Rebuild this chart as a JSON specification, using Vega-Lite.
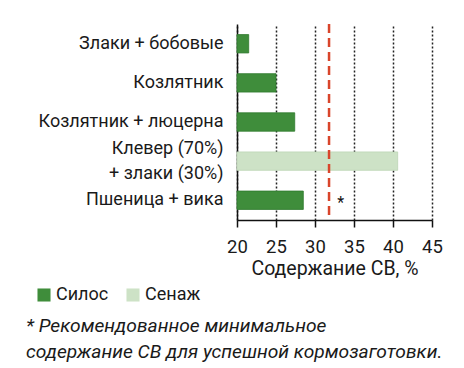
{
  "$schema": "https://vega.github.io/schema/vega-lite/v6.json",
  "width": 195,
  "height": 196,
  "autosize": "none",
  "padding": {"left": 237, "top": 24, "right": 32, "bottom": 148},
  "background": "white",
  "config": {"font": "Roboto", "view": {"stroke": null}},
  "title": {
    "text": ["* Рекомендованное минимальное", "содержание СВ для успешной кормозаготовки."],
    "orient": "bottom",
    "anchor": "start",
    "frame": "group",
    "fontStyle": "italic",
    "fontWeight": "normal",
    "fontSize": 19.2,
    "lineHeight": 26,
    "dx": -211,
    "offset": 13,
    "color": "#1a1a1a"
  },
  "data": {
    "values": [
      {"crop": "Злаки + бобовые", "type": "Силос", "dm": 21.5},
      {"crop": "Козлятник", "type": "Силос", "dm": 25},
      {"crop": "Козлятник + люцерна", "type": "Силос", "dm": 27.4},
      {"crop": "Клевер (70%)|+ злаки (30%)", "type": "Сенаж", "dm": 40.6},
      {"crop": "Пшеница + вика", "type": "Силос", "dm": 28.5}
    ]
  },
  "encoding": {
    "x": {
      "field": "dm",
      "type": "quantitative",
      "scale": {"domain": [20, 45], "nice": false, "zero": false},
      "axis": {
        "values": [20, 25, 30, 35, 40, 45],
        "grid": true,
        "gridDash": [2, 2],
        "gridColor": "#222",
        "gridWidth": 1.5,
        "gridOpacity": 1,
        "tickColor": "#111",
        "tickSize": 7,
        "tickWidth": 1.5,
        "domainColor": "#111",
        "domainWidth": 1.5,
        "labelFontSize": 18.5,
        "labelColor": "#1a1a1a",
        "labelPadding": 10,
        "labelOverlap": false,
        "labelFlush": false,
        "title": "Содержание СВ, %",
        "titleFontSize": 19.5,
        "titleFontWeight": "normal",
        "titleColor": "#1a1a1a",
        "titlePadding": 4
      }
    }
  },
  "layer": [
    {
      "mark": {"type": "bar", "strokeWidth": 0.8},
      "encoding": {
        "y": {
          "field": "crop",
          "type": "nominal",
          "sort": null,
          "scale": {"paddingInner": 0.53, "paddingOuter": 0.27},
          "axis": {
            "title": null,
            "ticks": false,
            "domainColor": "#111",
            "domainWidth": 1.5,
            "labelFontSize": 18,
            "labelColor": "#1a1a1a",
            "labelPadding": 14,
            "labelLimit": 240,
            "labelLineHeight": 25,
            "labelExpr": "split(datum.label, '|')",
            "labelOffset": {"condition": {"test": "indexof(datum.value, '|') >= 0", "value": -12.5}, "value": 0}
          }
        },
        "x2": {"datum": 20},
        "color": {
          "field": "type",
          "type": "nominal",
          "scale": {"domain": ["Силос", "Сенаж"], "range": ["#3f8d3b", "#cde2c6"]},
          "legend": {
            "orient": "none",
            "legendX": -202,
            "legendY": 262,
            "direction": "horizontal",
            "title": null,
            "symbolType": "square",
            "symbolSize": 170,
            "symbolStrokeWidth": 0,
            "labelFontSize": 18,
            "labelColor": "#1a1a1a",
            "labelOffset": 3,
            "columnPadding": 15
          }
        },
        "stroke": {
          "field": "type",
          "type": "nominal",
          "scale": {"domain": ["Силос", "Сенаж"], "range": ["#2f7a2d", "#bcd6b5"]},
          "legend": null
        }
      }
    },
    {
      "data": {"values": [{"dm": 31.8}]},
      "mark": {"type": "rule", "color": "#d9452b", "strokeWidth": 2.5, "strokeDash": [9, 5]},
      "encoding": {}
    },
    {
      "data": {"values": [{"crop": "Пшеница + вика", "dm": 33.3, "note": "*"}]},
      "mark": {"type": "text", "fontSize": 16, "dy": 3, "color": "#111"},
      "encoding": {
        "y": {"field": "crop", "type": "nominal", "sort": null},
        "text": {"field": "note"}
      }
    }
  ]
}
